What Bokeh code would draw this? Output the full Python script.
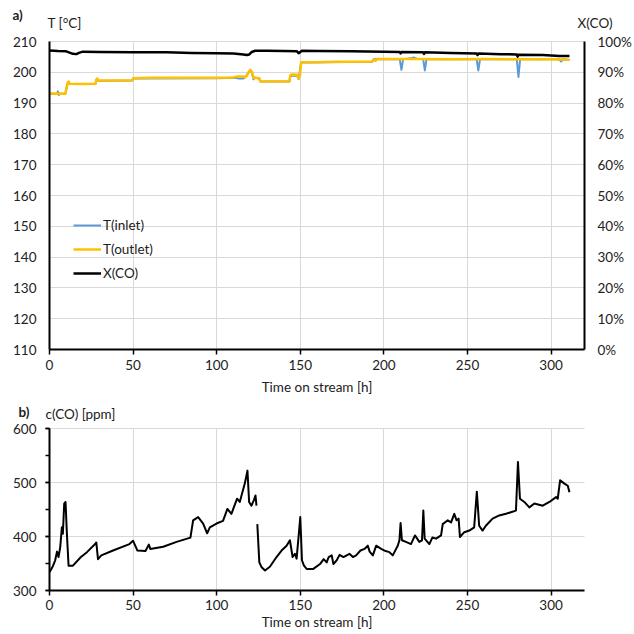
import numpy as np
from bokeh.plotting import figure
from bokeh.layouts import column
from bokeh.models import (Range1d, LinearAxis, SingleIntervalTicker, PrintfTickFormatter,
                          Label, Legend, LegendItem)
from bokeh.embed import file_html
from bokeh.resources import INLINE

FONT = "Lato"

# ---------------- data: panel a) ----------------
t_outlet = [0, 2, 5, 9.5, 10, 10.8, 11.5, 12, 20, 27.5, 28, 28.6, 29.2, 40, 49.5, 50, 60, 80, 100,
            110, 112, 116, 117, 118, 119, 120, 121, 122, 125.5, 126, 135, 143.5, 144, 145, 148, 149,
            149.8, 150.5, 160, 170, 180, 193, 194, 195, 196, 200, 220, 240, 260, 280, 300, 311]
T_outlet = [193.1, 193.0, 193.1, 193.0, 194.5, 196.5, 197.0, 196.3, 196.2, 196.3, 197.5, 198.0, 197.3,
            197.3, 197.4, 198.1, 198.2, 198.2, 198.2, 198.3, 198.6, 198.6, 198.4, 198.8, 200.0, 200.8,
            200.3, 198.2, 198.1, 197.1, 197.0, 197.1, 199.0, 199.3, 199.2, 198.0, 199.0, 203.3, 203.3,
            203.4, 203.4, 203.5, 204.2, 203.7, 204.3, 204.3, 204.3, 204.2, 204.3, 204.2, 204.2, 204.1]

t_inlet = [0, 4.5, 5, 5.5, 6, 9.5, 10.2, 11, 12, 27.5, 28.2, 29, 49.5, 50.2, 100, 112, 113, 116, 117,
           119, 120, 121, 122, 122.6, 125.5, 126, 143.5, 144, 148, 149, 150.5, 193, 194, 209.5, 210.5,
           211.5, 216, 218, 220, 223.5, 224.5, 225.5, 255.5, 256.5, 257.5, 279.5, 280.5, 281.5, 305,
           306, 307, 311]
T_inlet = [193.0, 193.0, 193.8, 192.6, 193.0, 193.0, 195.0, 196.8, 196.2, 196.2, 197.8, 197.2, 197.3,
           198.0, 198.1, 198.2, 198.0, 198.0, 198.5, 199.8, 200.5, 200.0, 197.7, 198.3, 198.0, 197.0,
           197.0, 198.8, 199.0, 197.8, 203.2, 203.4, 204.2, 204.2, 200.8, 204.2, 204.6, 204.8, 204.3,
           204.3, 200.6, 204.2, 204.2, 200.6, 204.2, 204.2, 198.5, 204.2, 204.2, 203.5, 204.2, 204.0]

t_x = [0, 5, 10, 14, 16, 18, 20, 30, 50, 70, 85, 100, 110, 116, 118, 119.5, 121, 123, 130, 140, 148,
       149, 150, 151, 160, 180, 200, 209.5, 210, 210.5, 223.5, 224, 224.5, 240, 255.5, 256, 256.5, 270,
       279.5, 280, 280.5, 295, 305, 311]
X_CO = [97.1, 96.9, 96.8, 96.0, 95.9, 96.4, 96.7, 96.6, 96.5, 96.5, 96.3, 96.2, 96.1, 95.8, 95.6, 95.8,
        96.6, 97.0, 97.0, 96.9, 96.8, 96.2, 96.6, 97.0, 96.9, 96.8, 96.7, 96.6, 96.1, 96.6, 96.5, 96.0,
        96.5, 96.3, 96.1, 95.6, 96.1, 95.9, 95.8, 95.1, 95.7, 95.6, 95.3, 95.3]

# ---------------- data: panel b) ----------------
t_c = [0.1, 2, 3.4, 4.5, 5.4, 6.4, 7.4, 8, 8.8, 9.6, 10.4, 11.4, 14, 18.8, 22.4, 27.3, 28, 29, 31, 38,
       47.8, 50, 52.6, 57.4, 59.4, 60.3, 68, 76, 84.3, 85.9, 88.9, 91.9, 94.3, 95.9, 99.9, 103.8, 106.4,
       108.8, 112.2, 113.8, 116.8, 118.4, 119.4, 120.8, 122.2, 123.2, 123.8,
       124.0,
       124.3, 125.5, 126.9, 128.9, 131.8, 135.8, 138.8, 141.8, 143.8, 145.4, 146.8, 147.8, 149.4, 150,
       151, 152.2, 153.8, 157.8, 161.8, 164, 165.8, 167, 168.8, 169.8, 171.8, 173.5, 175.8, 179.4,
       181.5, 183.4, 186, 188.4, 190.4, 191.5, 193.4, 195.4, 198.4, 201, 203.3, 205.3, 208.3, 209.3, 210,
       210.8, 213.2, 216.2, 218.6, 221.2, 222.8, 223.6, 224.4, 227.2, 229, 231.2, 234.2, 235.2, 238.2,
       240.2, 242.1, 243.5, 244.7, 245.5, 248.1, 251.1, 254, 255.6, 257, 259, 261, 265, 269, 273, 276,
       279, 280.2, 281.4, 284, 287, 290, 295, 299, 303, 304, 305.4, 308, 310, 311]
c_CO = [334, 345, 356, 372, 362, 380, 417, 405, 461, 464, 405, 346, 346, 362, 371, 386, 389, 358, 365,
        374, 386, 392, 374, 373, 385, 377, 381, 390, 398, 430, 436, 424, 406, 417, 424, 429, 451, 442,
        470, 464, 498, 522, 464, 457, 467, 476, 457,
        np.nan,
        423, 352, 343, 337, 344, 362, 374, 383, 393, 362, 368, 359, 414, 436, 356, 346, 340, 340, 349,
        358, 352, 362, 365, 349, 356, 366, 362, 368, 362, 365, 374, 377, 383, 372, 365, 383, 377, 373,
        371, 365, 383, 393, 425, 393, 390, 386, 402, 390, 393, 448, 396, 386, 398, 396, 402, 423, 430,
        426, 442, 430, 433, 399, 408, 411, 417, 483, 420, 411, 420, 433, 439, 442, 445, 448, 538, 470,
        464, 454, 461, 457, 464, 473, 470, 504, 498, 494, 482]

BLUE = "#5B9BD5"
YELLOW = "#FFC000"
GRID = "#d9d9d9"
TXT = "#222222"

# The frame spans the whole canvas; axes sit at fixed data locations with bounds,
# so the corner labels (a), T [°C], ...) can be drawn as ordinary annotations.
X_LO, X_HI = -49 * 320 / 535, 320 + 50 * 320 / 535


def style_common(p, y_lo, y_hi, lab_standoff, title_standoff):
    p.outline_line_color = None
    p.background_fill_color = "white"
    p.border_fill_color = "white"
    p.xaxis.fixed_location = y_lo
    p.xaxis.ticker = SingleIntervalTicker(interval=50, num_minor_ticks=0)
    p.xaxis.bounds = (0, 320)
    p.xgrid.ticker = SingleIntervalTicker(interval=50, num_minor_ticks=0)
    p.xgrid.bounds = (0, 320)
    p.xgrid.cross_bounds = (y_lo, y_hi)
    p.ygrid.bounds = (y_lo, y_hi)
    p.ygrid.cross_bounds = (0, 320)
    p.xaxis.axis_line_width = 2
    p.xaxis.axis_line_color = "black"
    p.xaxis.major_tick_out = 5
    p.xaxis.major_tick_in = 0
    p.xaxis.major_tick_line_width = 1.5
    p.xaxis.minor_tick_line_color = None
    p.xaxis.major_label_standoff = lab_standoff
    p.xaxis.axis_label = "Time on stream [h]"
    p.xaxis.axis_label_standoff = title_standoff
    p.xaxis.axis_label_text_font_style = "normal"
    p.yaxis.fixed_location = 0
    p.yaxis.bounds = (y_lo, y_hi)
    p.yaxis.axis_line_width = 2
    p.yaxis.axis_line_color = "black"
    p.grid.grid_line_color = GRID
    p.grid.grid_line_width = 1


def style_fonts(p):
    for ax in p.axis:
        ax.major_label_text_font = FONT
        ax.major_label_text_font_size = "13.5px"
        ax.major_label_text_color = TXT
        ax.axis_label_text_font = FONT
        ax.axis_label_text_font_size = "13.5px"
        ax.axis_label_text_color = TXT


def label(p, x, y, text, bold=False):
    p.add_layout(Label(x=x, y=y, x_units="screen", y_units="screen", text=text,
                       text_font=FONT, text_font_size="13.5px",
                       text_font_style="bold" if bold else "normal",
                       text_baseline="middle", text_color=TXT))


# ---------------- panel a ----------------
H1 = 395
A_TOP = 210 + 41 * 100 / 308
A_BOT = 110 - (H1 - 349) * 100 / 308
p1 = figure(width=634, height=H1, x_range=Range1d(X_LO, X_HI), y_range=Range1d(A_BOT, A_TOP),
            output_backend="svg", toolbar_location=None,
            min_border_left=0, min_border_right=0, min_border_top=0, min_border_bottom=0)
p1.extra_y_ranges = {"pct": Range1d(A_BOT - 110, A_TOP - 110)}
style_common(p1, 110, 210, 5, 6)
p1.yaxis.ticker = SingleIntervalTicker(interval=10, num_minor_ticks=0)
p1.ygrid.ticker = SingleIntervalTicker(interval=10, num_minor_ticks=0)
rax = LinearAxis(y_range_name="pct", ticker=SingleIntervalTicker(interval=10, num_minor_ticks=0),
                 formatter=PrintfTickFormatter(format="%d%%"), fixed_location=320, bounds=(0, 100))
p1.add_layout(rax, "right")
for ax in (p1.yaxis[0], rax):
    ax.axis_line_width = 2
    ax.axis_line_color = "black"
    ax.major_tick_out = 0
    ax.major_tick_in = 0
    ax.minor_tick_line_color = None
    ax.major_label_standoff = 13
style_fonts(p1)

r_in = p1.line(t_inlet, T_inlet, line_color=BLUE, line_width=2, line_join="round")
r_out = p1.line(t_outlet, T_outlet, line_color=YELLOW, line_width=2.5, line_join="round")
r_x = p1.line(t_x, X_CO, y_range_name="pct", line_color="black", line_width=2.5, line_join="round")

legend = Legend(items=[LegendItem(label="T(inlet)", renderers=[r_in]),
                       LegendItem(label="T(outlet)", renderers=[r_out]),
                       LegendItem(label="X(CO)", renderers=[r_x])],
                location=(73, 66 + H1 - 349), background_fill_alpha=0, border_line_color=None,
                margin=0, padding=0, spacing=4, glyph_width=28, glyph_height=20,
                label_height=20, label_standoff=2, label_text_font=FONT,
                label_text_font_size="13.5px", label_text_color=TXT)
p1.add_layout(legend)

label(p1, 12, H1 - 14, "a)", bold=True)
label(p1, 47, H1 - 22, "T [°C]")
label(p1, 577, H1 - 22, "X(CO)")

# ---------------- panel b ----------------
H2 = 239
B_TOP = 600 + 33 * 300 / 162
B_BOT = 300 - (H2 - 195) * 300 / 162
p2 = figure(width=634, height=H2, x_range=Range1d(X_LO, X_HI), y_range=Range1d(B_BOT, B_TOP),
            output_backend="svg", toolbar_location=None,
            min_border_left=0, min_border_right=0, min_border_top=0, min_border_bottom=0)
style_common(p2, 300, 600, 4, 1)
p2.yaxis.ticker = SingleIntervalTicker(interval=100, num_minor_ticks=2)
p2.ygrid.ticker = SingleIntervalTicker(interval=100, num_minor_ticks=0)
p2.yaxis.major_tick_out = 4
p2.yaxis.major_tick_in = 0
p2.yaxis.minor_tick_out = 4
p2.yaxis.minor_tick_in = 0
p2.yaxis.major_tick_line_width = 1.5
p2.yaxis.minor_tick_line_width = 1.5
p2.yaxis.minor_tick_line_color = "black"
p2.yaxis.major_label_standoff = 9
style_fonts(p2)

p2.line(t_c, c_CO, line_color="black", line_width=2, line_join="round")

label(p2, 18, H2 - 16, "b)", bold=True)
label(p2, 45, H2 - 18, "c(CO) [ppm]")

layout = column(p1, p2)
open("out.html", "w").write(file_html(layout, INLINE))
